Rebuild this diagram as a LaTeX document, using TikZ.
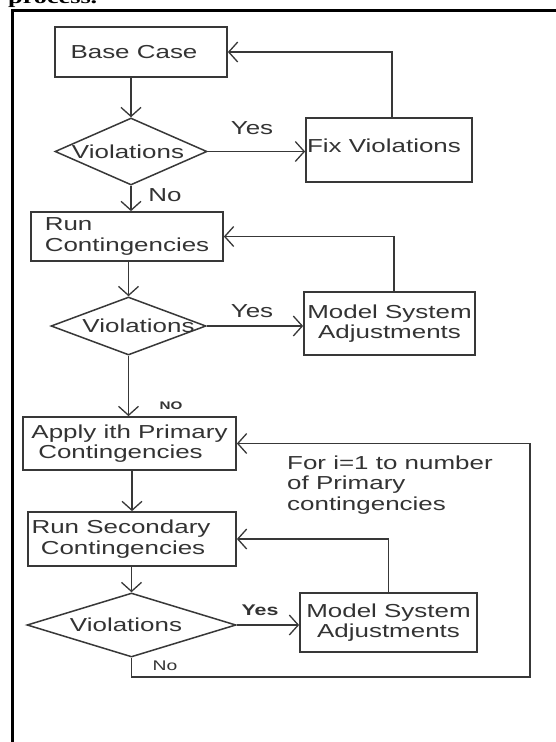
\documentclass[tikz,border=0pt]{standalone}
\usepackage{fontspec}
\setmainfont{Liberation Sans}[FakeStretch=1.38]
\newfontfamily\procfont{Liberation Serif}[FakeStretch=1.38]
\usetikzlibrary{shapes.geometric,arrows.meta}
\definecolor{lncol}{HTML}{383838}
\definecolor{txtcol}{HTML}{333333}
\begin{document}
\begin{tikzpicture}[x=1pt,y=-1pt,
  every node/.style={text=txtcol, font=\fontsize{18.8}{20.5}\selectfont},
  box/.style={draw=lncol, line width=1.7pt, rectangle, inner sep=0pt},
  dia/.style={draw=lncol, line width=1.5pt, diamond, inner sep=0pt, aspect=1},
  arr/.style={draw=lncol, line width=1.6pt, -{Straight Barb[length=9pt,width=20pt,line width=1.3pt]}},
  lbl/.style={inner sep=0pt}
]
\useasboundingbox (0,0) rectangle (556,742);
\clip (0,0) rectangle (556,742);
\fill[white] (0,0) rectangle (556,742);

% heading fragment and frame
\node[anchor=base west, inner sep=0pt, text=black, font=\procfont\bfseries\fontsize{19}{19}\selectfont] (proc) at (8,3) {process.};
\draw[black, line width=3pt] (12.5,760) -- (12.5,10.5) -- (580,10.5);

% nodes
\node[box, minimum width=172pt, minimum height=50pt] (base) at (141,52) {\hspace*{-14pt}Base Case};
\node[dia, minimum width=152pt, minimum height=67pt] (d1) at (131,151.5) {\makebox[0pt]{\hspace*{-6pt}Violations}};
\node[box, minimum width=166pt, minimum height=64pt, text depth=8pt] (fix) at (389,150) {\hspace*{-10pt}Fix Violations};

\node[box, minimum width=192pt, minimum height=49pt, align=left] (run) at (127,236.5) {Run\\Contingencies};
\node[dia, minimum width=155pt, minimum height=58pt] (d2) at (128.5,326) {\makebox[0pt]{\hspace*{20pt}Violations}};
\node[box, minimum width=171pt, minimum height=63pt, align=center] (m1) at (389.5,323.5) {Model System\\Adjustments};

\node[box, minimum width=213pt, minimum height=53pt, align=center] (apply) at (129.5,443.5) {Apply ith Primary\\Contingencies\hspace*{18pt}};
\node[box, minimum width=208pt, minimum height=54pt, align=center] (rs) at (132,539) {Run Secondary\hspace*{22pt}\\Contingencies\hspace*{18pt}};
\node[dia, minimum width=209pt, minimum height=64pt] (d3) at (131.5,625) {\makebox[0pt]{\hspace*{-11pt}Violations}};
\node[box, minimum width=177pt, minimum height=59pt, align=center] (m2) at (388.5,622.5) {Model System\\Adjustments};

% labels
\node[lbl] (yes1) at (252,128) {Yes};
\node[lbl] (no1) at (165,195) {No};
\node[lbl] (yes2) at (252,311) {Yes};
\node[lbl, font=\fontsize{11}{11}\selectfont\bfseries] (no2) at (171,406) {NO};
\node[lbl, align=left, anchor=west] (fortxt) at (287,485) {For i=1 to number\\of Primary\\contingencies};
\node[lbl, font=\fontsize{15.5}{16}\selectfont\bfseries] (yes3) at (260,610) {Yes};
\node[lbl, font=\fontsize{14}{14}\selectfont] (no3) at (165,666) {No};

% connectors
\draw[arr] (d1.north |- base.south) -- (d1.north);
\draw[arr] (d1.east) -- (d1.east -| fix.west);
\draw[arr] ([xshift=3pt]fix.north) |- (base.east);
\draw[arr] (d1.south) -- (d1.south |- run.north);

\draw[arr] (d2.north |- run.south) -- (d2.north);
\draw[arr] (d2.east) -- (d2.east -| m1.west);
\draw[arr] ([xshift=4.5pt]m1.north) |- (run.east);
\draw[arr] (d2.south) -- (d2.south |- apply.north);

\draw[arr] (rs.north |- apply.south) -- (rs.north);
\draw[arr] (d3.north |- rs.south) -- (d3.north);
\draw[arr] (d3.east) -- (d3.east -| m2.west);
\draw[arr] (m2.north) |- (rs.east);

\coordinate (lp) at (530,677);
\draw[arr] (d3.south) |- (lp) |- (apply.east);
\end{tikzpicture}
\end{document}
